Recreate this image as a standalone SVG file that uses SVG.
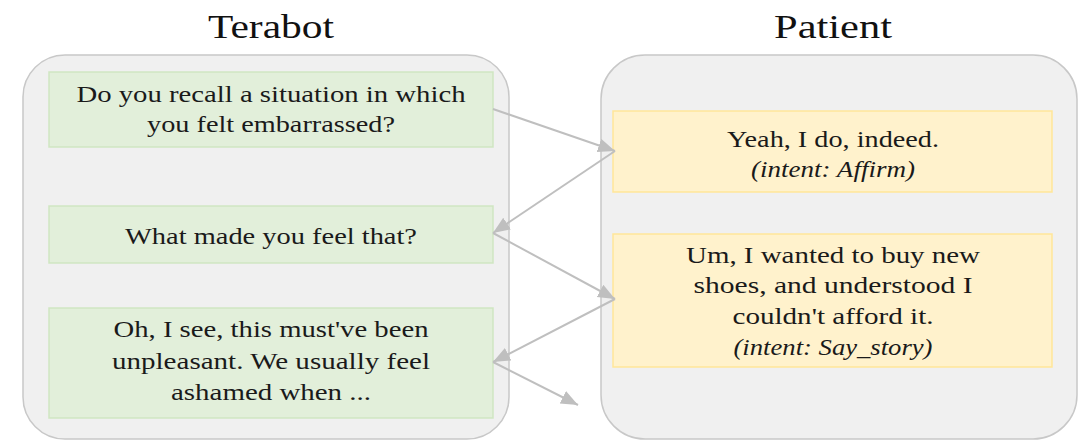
<svg xmlns="http://www.w3.org/2000/svg" width="1081" height="440" viewBox="0 0 1081 440">
<style>
.cont{fill:#f0f0f0;stroke:#c8c8c8;stroke-width:1.5}
.g{fill:#e2efda;stroke:#cfe6c2;stroke-width:1.5}
.y{fill:#fff2cc;stroke:#ffe699;stroke-width:1.5}
.t{font-family:"Liberation Serif","Times New Roman",serif;font-size:24px;fill:#1a1a1a;text-anchor:middle}
.i{font-style:italic}
.title{font-family:"Liberation Serif","Times New Roman",serif;font-size:33px;fill:#111;text-anchor:middle}
.c{stroke:#bfbfbf;stroke-width:2;fill:none;marker-end:url(#ah)}
</style>
<defs>
<marker id="ah" markerUnits="userSpaceOnUse" markerWidth="18" markerHeight="15" refX="17" refY="7" orient="auto">
<path d="M0,0 L17,7 L0,14 z" fill="#bfbfbf"/>
</marker>
</defs>
<rect width="1081" height="440" fill="#ffffff"/>
<g id="terabot">
<rect class="cont" x="23" y="55" width="486" height="384" rx="42" ry="42"/>
<text class="title" x="271" y="38" textLength="126" lengthAdjust="spacingAndGlyphs">Terabot</text>
</g>
<g id="patient">
<rect class="cont" x="601" y="55" width="476" height="384" rx="44" ry="44"/>
<text class="title" x="833" y="38" textLength="118" lengthAdjust="spacingAndGlyphs">Patient</text>
</g>
<g id="t1">
<rect class="g" x="49" y="72" width="444" height="75"/>
<text class="t" x="271" y="102" textLength="389" lengthAdjust="spacingAndGlyphs">Do you recall a situation in which</text>
<text class="t" x="271" y="132" textLength="248" lengthAdjust="spacingAndGlyphs">you felt embarrassed?</text>
</g>
<g id="t2">
<rect class="g" x="49" y="206" width="444" height="57"/>
<text class="t" x="271" y="244" textLength="292" lengthAdjust="spacingAndGlyphs">What made you feel that?</text>
</g>
<g id="t3">
<rect class="g" x="49" y="308" width="444" height="110"/>
<text class="t" x="271" y="337" textLength="315" lengthAdjust="spacingAndGlyphs">Oh, I see, this must've been</text>
<text class="t" x="271" y="369" textLength="318" lengthAdjust="spacingAndGlyphs">unpleasant. We usually feel</text>
<text class="t" x="271" y="400" textLength="200" lengthAdjust="spacingAndGlyphs">ashamed when ...</text>
</g>
<g id="p1">
<rect class="y" x="613" y="111" width="439" height="81"/>
<text class="t" x="833" y="147" textLength="212" lengthAdjust="spacingAndGlyphs">Yeah, I do, indeed.</text>
<text class="t i" x="833" y="177" textLength="164" lengthAdjust="spacingAndGlyphs">(intent: Affirm)</text>
</g>
<g id="p2">
<rect class="y" x="613" y="234" width="439" height="133"/>
<text class="t" x="833" y="263" textLength="294" lengthAdjust="spacingAndGlyphs">Um, I wanted to buy new</text>
<text class="t" x="833" y="293" textLength="279" lengthAdjust="spacingAndGlyphs">shoes, and understood I</text>
<text class="t" x="833" y="324" textLength="201" lengthAdjust="spacingAndGlyphs">couldn't afford it.</text>
<text class="t i" x="833" y="355" textLength="199" lengthAdjust="spacingAndGlyphs">(intent: Say_story)</text>
</g>
<g id="connectors">
<line class="c" x1="493" y1="109" x2="615" y2="151"/>
<line class="c" x1="615" y1="151" x2="493" y2="233"/>
<line class="c" x1="493" y1="233" x2="615" y2="299"/>
<line class="c" x1="615" y1="299" x2="493" y2="362"/>
<line class="c" x1="493" y1="362" x2="578" y2="405"/>
</g>
</svg>
